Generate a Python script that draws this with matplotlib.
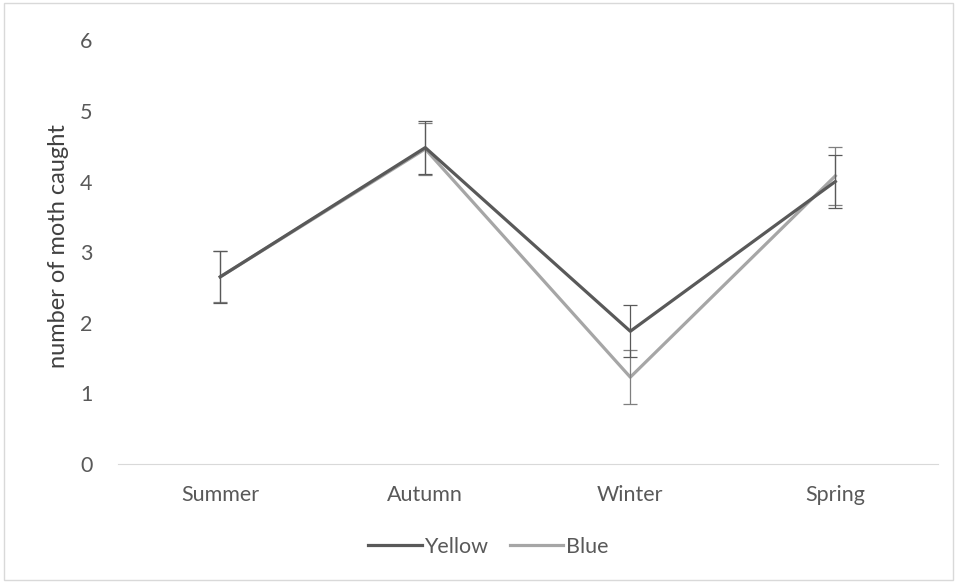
import matplotlib.pyplot as plt
from matplotlib.patches import Rectangle

plt.rcParams["font.family"] = ["Lato", "DejaVu Sans"]

seasons = ["Summer", "Autumn", "Winter", "Spring"]
yellow = [2.65, 4.48, 1.88, 4.0]
yellow_err = [0.37, 0.37, 0.37, 0.37]
blue = [2.65, 4.46, 1.23, 4.08]
blue_err = [0.36, 0.37, 0.38, 0.41]

fig = plt.figure(figsize=(9.57, 5.83), dpi=100)
ax = fig.add_axes([0.123, 0.204, 0.857, 0.727])

x = list(range(len(seasons)))

ax.plot(x, blue, color="#a6a6a6", lw=2.3, label="Blue", zorder=2)
ax.plot(x, yellow, color="#595959", lw=2.3, label="Yellow", zorder=3)
ax.errorbar(x, blue, yerr=blue_err, fmt="none", ecolor="#7f7f7f",
            elinewidth=0.9, capsize=5, capthick=0.9, zorder=4)
ax.errorbar(x, yellow, yerr=yellow_err, fmt="none", ecolor="#595959",
            elinewidth=0.9, capsize=5, capthick=0.9, zorder=4)

ax.set_xlim(-0.5, 3.5)
ax.set_ylim(0, 6)
ax.set_xticks(x)
ax.set_xticklabels(seasons)
ax.set_yticks(range(7))

for s in ["top", "right", "left"]:
    ax.spines[s].set_visible(False)
ax.spines["bottom"].set_color("#d9d9d9")
ax.tick_params(axis="both", length=0, colors="#595959", labelsize=15.5)
ax.tick_params(axis="x", pad=15)
ax.tick_params(axis="y", pad=18)

ax.set_ylabel("number of moth caught", fontsize=17, color="#404040")
ax.yaxis.set_label_coords(-0.059, 0.515)

handles, labels = ax.get_legend_handles_labels()
fig.legend(handles[::-1], labels[::-1], loc="center", bbox_to_anchor=(0.51, 0.062),
           ncol=2, frameon=False, fontsize=15.5, handlelength=2.5,
           columnspacing=1.0, handletextpad=0.1, labelcolor="#595959")

fig.patches.append(Rectangle((0.004, 0.005), 0.992, 0.99, transform=fig.transFigure,
                             fill=False, edgecolor="#d9d9d9", lw=1))

fig.savefig("out.png", dpi=100)
